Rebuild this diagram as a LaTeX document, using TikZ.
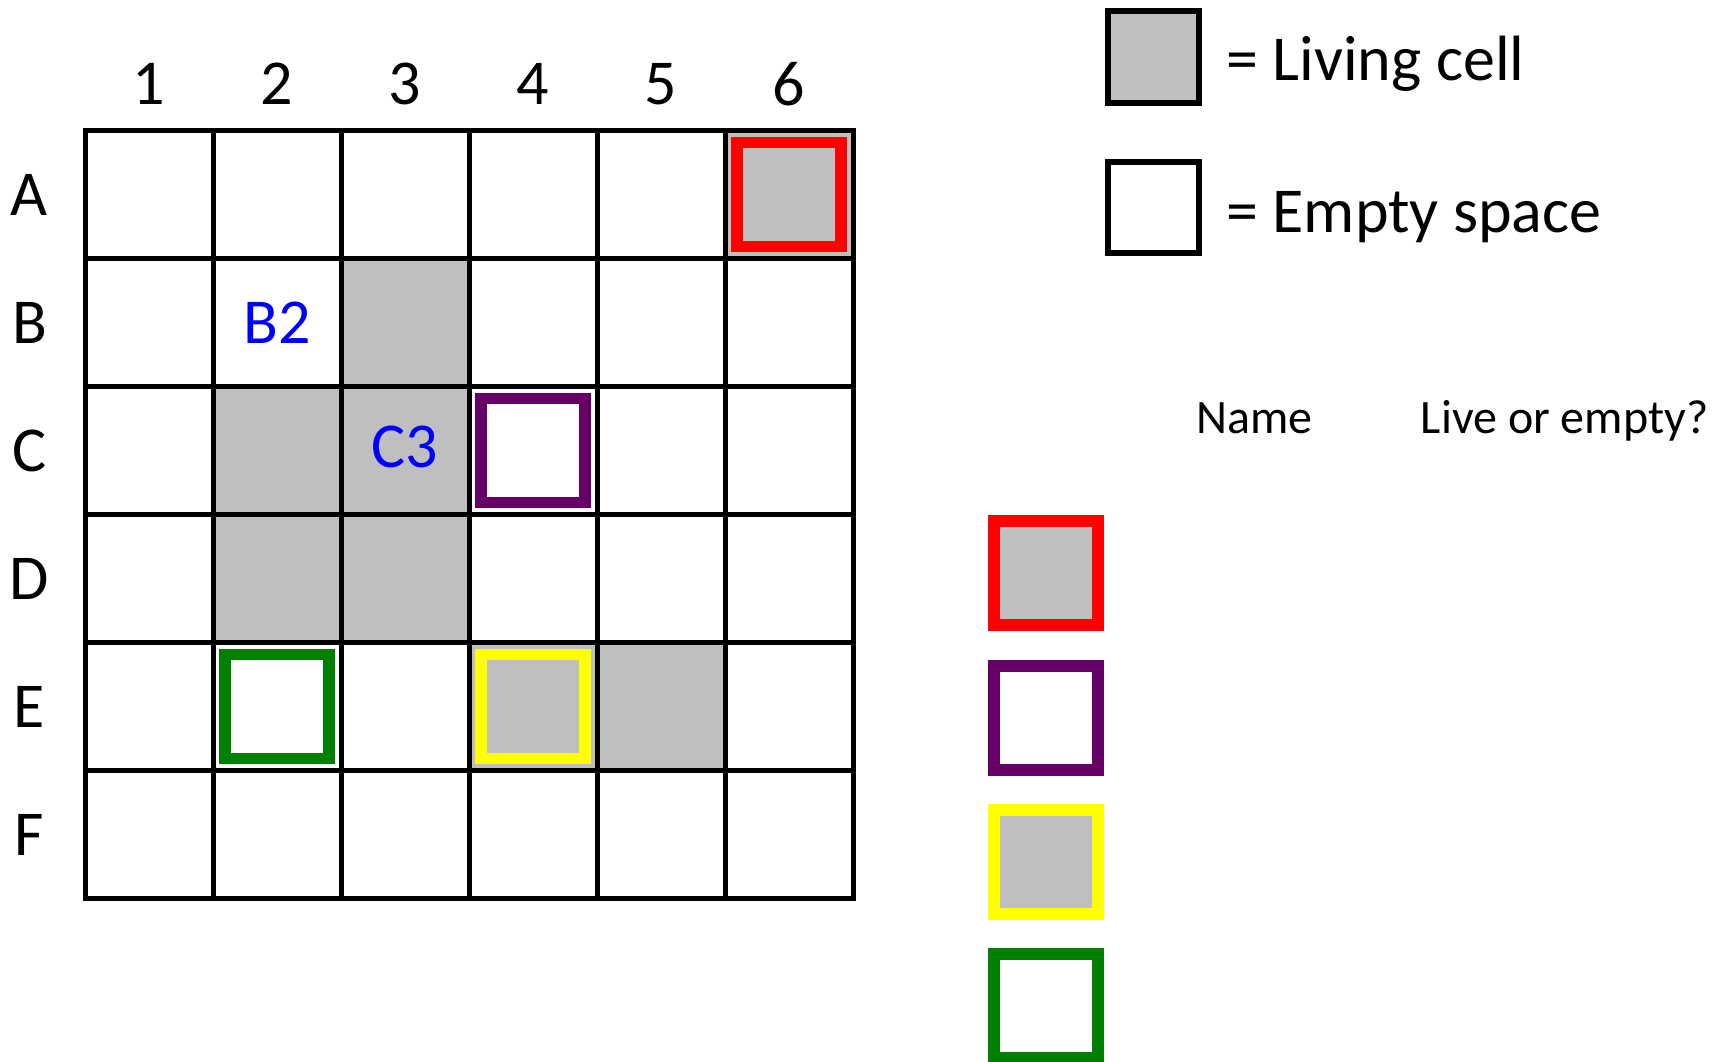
\documentclass[tikz,border=0pt]{standalone}
\usepackage{fontspec}
\setmainfont{Carlito}
\definecolor{livegray}{RGB}{191,191,191}
\definecolor{ringpurple}{RGB}{102,0,102}
\definecolor{ringgreen}{RGB}{0,128,0}
\definecolor{ringyellow}{RGB}{255,255,0}
\begin{document}
\begin{tikzpicture}[x=0.5pt,y=-0.5pt,
  lbl/.style={font=\fontsize{32}{38}\selectfont,inner sep=0pt},
  hdr/.style={font=\fontsize{24}{29}\selectfont,inner sep=0pt},
  cellname/.style={lbl,text=blue},
  gridline/.style={line width=2.5pt,line cap=rect},
  keybox/.style={line width=3pt},
  ring/.style={line width=5.85pt}]
\useasboundingbox (0,0) rectangle (1724,1061);
% Board: 6 x 6 cells of 128 px, top left corner at (85,130.5)
\foreach \c/\r in {6/1,3/2,2/3,3/3,2/4,3/4,4/5,5/5}
  \fill[livegray] (85+128*\c-128,130.5+128*\r-128) rectangle ++(128,128);
\foreach \i in {0,...,6} {
  \draw[gridline] (85+128*\i,130.5) -- ++(0,768);
  \draw[gridline] (85,130.5+128*\i) -- ++(768,0);
}
\foreach \c in {1,...,6} \node[lbl] (col\c) at (85+128*\c-64,84) {\c};
\foreach \r/\n in {1/A,2/B,3/C,4/D,5/E,6/F}
  \node[lbl] (row\n) at (29.5,130.5+128*\r-64) {\n};
\node[cellname] (nameB2) at (277,322.5) {B2};
\node[cellname] (nameC3) at (405,447) {C3};
% Marked cells on the board: A6 red, C4 purple, E4 yellow, E2 green
\foreach \c/\r/\col in {6/1/red,4/3/ringpurple,4/5/ringyellow,2/5/ringgreen}
  \draw[ring,\col] (85+128*\c-116,130.5+128*\r-116) rectangle ++(104,104);
% Key
\draw[keybox,fill=livegray] (1108,10.7) rectangle (1199,102.6);
\draw[keybox,fill=white] (1108,162) rectangle (1199,253);
\node[lbl,anchor=base west] (keylive) at (1226,80) {= Living cell};
\node[lbl,anchor=base west] (keyempty) at (1226,232) {= Empty space};
% Answer table
\node[hdr,anchor=base west] (hdrname) at (1196,433) {Name};
\node[hdr,anchor=base west] (hdrstate) at (1420.5,433) {Live or empty?};
\foreach \y/\col/\f in {573/red/livegray,718/ringpurple/white,862/ringyellow/livegray,1006/ringgreen/white}
  \draw[ring,\col,fill=\f] (1046-52,\y-52) rectangle ++(104,104);
\end{tikzpicture}
\end{document}
